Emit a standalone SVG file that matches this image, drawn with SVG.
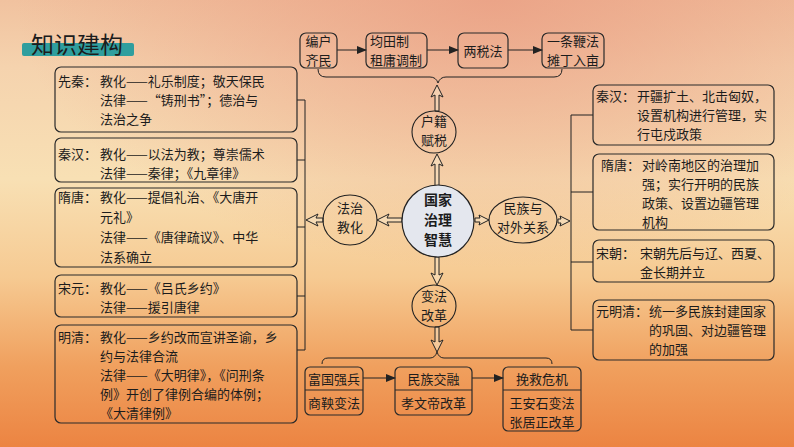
<svg xmlns="http://www.w3.org/2000/svg" width="794" height="447" viewBox="0 0 794 447">
<defs>
<linearGradient id="bg" x1="0" y1="0" x2="0" y2="1">
<stop offset="0" stop-color="#f1c29f"/>
<stop offset="0.15" stop-color="#f5d3ae"/>
<stop offset="0.4" stop-color="#f8e0b4"/>
<stop offset="0.62" stop-color="#f6ca92"/>
<stop offset="0.82" stop-color="#f0a05e"/>
<stop offset="1" stop-color="#ec8442"/>
</linearGradient>
<radialGradient id="tr" cx="0.62" cy="0" r="0.6">
<stop offset="0" stop-color="#e99a80" stop-opacity="0.75"/>
<stop offset="1" stop-color="#e99a80" stop-opacity="0"/>
</radialGradient>
<marker id="ah" markerWidth="10" markerHeight="8" refX="9" refY="4" orient="auto" markerUnits="userSpaceOnUse">
<path d="M0,0 L10,4 L0,8 Z" fill="#222"/>
</marker>
<style>
text{font-family:"Noto Sans CJK SC","Noto Sans",sans-serif;fill:#1c1c1c;}
.t{font-size:13px;}
.c{font-size:13px;text-anchor:middle;}
.m{font-size:14px;font-weight:bold;text-anchor:middle;}
.box{fill:none;stroke:#2a2a2a;stroke-width:1.2;}
.ln{fill:none;stroke:#222;stroke-width:1;}
.ha{fill:#f7e6c8;fill-opacity:0.5;stroke:#222;stroke-width:1;}
.el{fill:none;stroke:#222;stroke-width:1.1;}
</style>
</defs>
<rect x="0" y="0" width="794" height="447" fill="url(#bg)"/>
<rect x="0" y="0" width="794" height="447" fill="url(#tr)"/>

<g id="title">
<rect x="22" y="43" width="112" height="13" rx="2" fill="#2f9e9e"/>
<text x="31" y="53" style="font-size:23px;">知识建构</text>
</g>

<g id="connectors">
<path class="ln" d="M318,69 Q318,77 326,77 L430,77 Q436,77 438,83 Q440,77 446,77 L554,77 Q562,77 562,69"/>
<path class="ln" d="M322,364 Q322,358 328,358 L430,358 Q435,358 437,352 Q439,358 444,358 L546,358 Q552,358 552,364"/>
<path class="ln" d="M305,100 L305,350 M297,100 L305,100 M297,160 L305,160 M297,227 L305,227 M297,296 L305,296 M297,350 L305,350"/>
<path class="ln" d="M571,115 L571,330 M571,115 L593,115 M571,192 L593,192 M571,262 L593,262 M571,330 L593,330"/>
<line class="ln" x1="337" y1="50" x2="366" y2="50" marker-end="url(#ah)"/>
<line class="ln" x1="427" y1="50" x2="458" y2="50" marker-end="url(#ah)"/>
<line class="ln" x1="508" y1="50" x2="542" y2="50" marker-end="url(#ah)"/>
<line class="ln" x1="363" y1="378" x2="395" y2="378" marker-end="url(#ah)"/>
<line class="ln" x1="472" y1="378" x2="503" y2="378" marker-end="url(#ah)"/>
<path class="ha" d="M437,154 L443,166 L439,164 L439,186 L435,186 L435,164 L431,166 Z"/>
<path class="ha" d="M437,85 L443,97 L439,95 L439,111 L435,111 L435,95 L431,97 Z"/>
<path class="ha" d="M437,285 L443,273 L439,275 L439,257 L435,257 L435,275 L431,273 Z"/>
<path class="ha" d="M437,352 L443,340 L439,342 L439,327 L435,327 L435,342 L431,340 Z"/>
<path class="ha" d="M377,220 L389,214 L387,218 L402,218 L402,222 L387,222 L389,226 Z"/>
<path class="ha" d="M306,220 L318,214 L316,218 L323,218 L323,222 L316,222 L318,226 Z"/>
<path class="ha" d="M489,220 L479,215 L480,218 L475,218 L475,222 L480,222 L479,225 Z"/>
<path class="ha" d="M570,221 L560,216 L561,219 L558,219 L558,223 L561,223 L560,226 Z"/>
</g>

<g id="center">
<circle cx="438" cy="221" r="36" fill="#e4e7ee" stroke="#222" stroke-width="1.2"/>
<text class="m" x="438" y="205">国家</text>
<text class="m" x="438" y="225">治理</text>
<text class="m" x="438" y="245">智慧</text>
</g>

<g id="huji">
<ellipse class="el" cx="434" cy="132" rx="22" ry="21"/>
<text class="c" x="434" y="126">户籍</text>
<text class="c" x="434" y="145">赋税</text>
</g>
<g id="fazhi">
<ellipse class="el" cx="350" cy="220" rx="27" ry="25"/>
<text class="c" x="350" y="213">法治</text>
<text class="c" x="350" y="232">教化</text>
</g>
<g id="minzu">
<ellipse class="el" cx="523" cy="220" rx="34" ry="23"/>
<text class="c" x="523" y="213">民族与</text>
<text class="c" x="523" y="232">对外关系</text>
</g>
<g id="bianfa">
<ellipse class="el" cx="434" cy="306" rx="22" ry="21"/>
<text class="c" x="434" y="301">变法</text>
<text class="c" x="434" y="320">改革</text>
</g>

<g id="top1">
<rect class="box" x="300" y="33" width="37" height="35" rx="6"/>
<text class="c" x="318.5" y="46">编户</text>
<text class="c" x="318.5" y="65">齐民</text>
</g>
<g id="top2">
<rect class="box" x="366" y="33" width="61" height="35" rx="6"/>
<text class="t" x="370" y="46">均田制</text>
<text class="t" x="370" y="65">租庸调制</text>
</g>
<g id="top3">
<rect class="box" x="458" y="33" width="50" height="35" rx="6"/>
<text class="c" x="483" y="56">两税法</text>
</g>
<g id="top4">
<rect class="box" x="542" y="33" width="62" height="35" rx="6"/>
<text class="c" x="573" y="46">一条鞭法</text>
<text class="c" x="573" y="65">摊丁入亩</text>
</g>

<g id="left1">
<rect class="box" x="55" y="67" width="242" height="65" rx="6"/>
<text class="t" x="58" y="86">先秦：</text>
<text class="t" x="100" y="86">教化——礼乐制度；敬天保民</text>
<text class="t" x="100" y="105">法律——“铸刑书”；德治与</text>
<text class="t" x="100" y="124">法治之争</text>
</g>
<g id="left2">
<rect class="box" x="55" y="138" width="242" height="44" rx="6"/>
<text class="t" x="58" y="159">秦汉：</text>
<text class="t" x="100" y="159">教化——以法为教；尊崇儒术</text>
<text class="t" x="100" y="178">法律——秦律；《九章律》</text>
</g>
<g id="left3">
<rect class="box" x="55" y="188" width="242" height="79" rx="6"/>
<text class="t" x="58" y="202">隋唐：</text>
<text class="t" x="100" y="202">教化——提倡礼治、《大唐开</text>
<text class="t" x="100" y="222">元礼》</text>
<text class="t" x="100" y="242">法律——《唐律疏议》、中华</text>
<text class="t" x="100" y="262">法系确立</text>
</g>
<g id="left4">
<rect class="box" x="55" y="275" width="242" height="42" rx="6"/>
<text class="t" x="58" y="293">宋元：</text>
<text class="t" x="100" y="293">教化——《吕氏乡约》</text>
<text class="t" x="100" y="312">法律——援引唐律</text>
</g>
<g id="left5">
<rect class="box" x="55" y="325" width="242" height="98" rx="6"/>
<text class="t" x="58" y="342">明清：</text>
<text class="t" x="100" y="342">教化——乡约改而宣讲圣谕，乡</text>
<text class="t" x="100" y="361">约与法律合流</text>
<text class="t" x="100" y="380">法律——《大明律》，《问刑条</text>
<text class="t" x="100" y="399">例》开创了律例合编的体例；</text>
<text class="t" x="100" y="418">《大清律例》</text>
</g>

<g id="right1">
<rect class="box" x="593" y="85" width="181" height="60" rx="6"/>
<text class="t" x="596" y="101">秦汉：</text>
<text class="t" x="637" y="101">开疆扩土、北击匈奴，</text>
<text class="t" x="637" y="120">设置机构进行管理，实</text>
<text class="t" x="637" y="139">行屯戍政策</text>
</g>
<g id="right2">
<rect class="box" x="593" y="154" width="181" height="76" rx="6"/>
<text class="t" x="601" y="170">隋唐：</text>
<text class="t" x="642" y="170">对岭南地区的治理加</text>
<text class="t" x="642" y="189">强；实行开明的民族</text>
<text class="t" x="642" y="208">政策、设置边疆管理</text>
<text class="t" x="642" y="227">机构</text>
</g>
<g id="right3">
<rect class="box" x="593" y="240" width="181" height="42" rx="6"/>
<text class="t" x="596" y="258">宋朝：</text>
<text class="t" x="640" y="258">宋朝先后与辽、西夏、</text>
<text class="t" x="640" y="277">金长期并立</text>
</g>
<g id="right4">
<rect class="box" x="593" y="300" width="181" height="60" rx="6"/>
<text class="t" x="596" y="316">元明清：</text>
<text class="t" x="649" y="316">统一多民族封建国家</text>
<text class="t" x="649" y="335">的巩固、对边疆管理</text>
<text class="t" x="649" y="354">的加强</text>
</g>

<g id="bottom1">
<rect class="box" x="305" y="367" width="58" height="48" rx="5"/>
<line class="box" x1="305" y1="390" x2="363" y2="390"/>
<text class="c" x="334" y="384">富国强兵</text>
<text class="c" x="334" y="408">商鞅变法</text>
</g>
<g id="bottom2">
<rect class="box" x="395" y="367" width="77" height="48" rx="5"/>
<line class="box" x1="395" y1="390" x2="472" y2="390"/>
<text class="c" x="433.5" y="384">民族交融</text>
<text class="c" x="433.5" y="408">孝文帝改革</text>
</g>
<g id="bottom3">
<rect class="box" x="503" y="367" width="78" height="64" rx="5"/>
<line class="box" x1="503" y1="390" x2="581" y2="390"/>
<text class="c" x="542" y="384">挽救危机</text>
<text class="c" x="542" y="408">王安石变法</text>
<text class="c" x="542" y="427">张居正改革</text>
</g>
</svg>
